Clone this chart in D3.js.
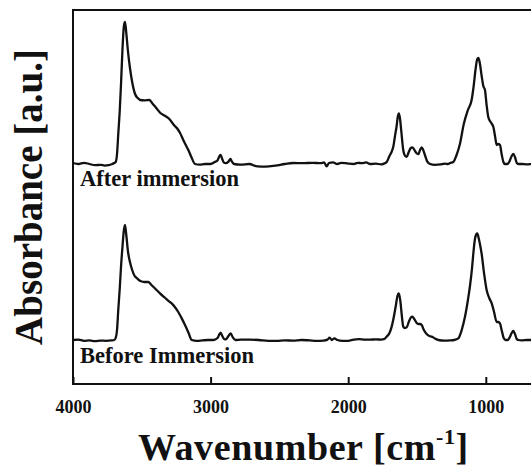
<!DOCTYPE html>
<html>
<head>
<meta charset="utf-8">
<script src="https://cdn.jsdelivr.net/npm/d3@7"></script>
<style>
  body { margin: 0; background: #fff; }
  svg { display: block; }
</style>
</head>
<body>
<script>
// FTIR spectra, [wavenumber, absorbance]
const afterImmersion = [
  [4000,0.005],[3960,0.0],[3920,0.006],[3880,0.0],[3840,-0.006],[3800,-0.004],[3770,-0.008],[3740,-0.006],
  [3715,0.0],[3700,0.005],[3690,0.01],[3680,0.05],[3671,0.15],[3660,0.27],[3651,0.4],[3640,0.58],[3630,0.69],
  [3622,0.71],[3612,0.65],[3600,0.56],[3586,0.48],[3570,0.41],[3549,0.35],[3530,0.33],[3513,0.32],[3480,0.318],
  [3445,0.32],[3420,0.3],[3395,0.28],[3365,0.255],[3330,0.24],[3300,0.225],[3283,0.21],[3260,0.19],[3240,0.175],
  [3222,0.155],[3195,0.115],[3162,0.07],[3140,0.035],[3113,0.0],[3080,-0.003],[3040,0.0],[3000,0.0],[2970,0.01],
  [2950,0.018],[2935,0.04],[2927,0.045],[2918,0.03],[2905,0.008],[2890,0.004],[2870,0.012],[2856,0.025],
  [2845,0.012],[2830,0.0],[2780,-0.003],[2720,0.0],[2660,-0.012],[2600,-0.013],[2530,-0.008],[2460,0.0],
  [2400,0.005],[2330,0.004],[2260,0.006],[2200,0.004],[2175,0.008],[2157,-0.012],[2140,0.005],[2110,0.008],
  [2080,0.0],[2050,0.006],[2000,0.002],[1960,0.0],[1930,0.006],[1900,0.004],[1870,0.008],[1840,0.0],[1800,0.002],
  [1760,-0.002],[1740,0.002],[1720,0.01],[1700,0.04],[1685,0.06],[1672,0.087],[1660,0.14],[1648,0.19],
  [1640,0.235],[1632,0.253],[1624,0.23],[1615,0.17],[1600,0.07],[1588,0.042],[1575,0.036],[1560,0.06],
  [1545,0.08],[1534,0.083],[1520,0.072],[1505,0.055],[1490,0.05],[1478,0.07],[1466,0.083],[1455,0.07],
  [1440,0.04],[1425,0.012],[1405,0.0],[1370,-0.004],[1330,-0.002],[1300,0.002],[1275,0.0],[1260,0.005],
  [1236,0.01],[1215,0.04],[1188,0.1],[1160,0.2],[1130,0.27],[1103,0.32],[1090,0.38],[1075,0.47],[1062,0.525],
  [1054,0.53],[1045,0.51],[1030,0.44],[1018,0.39],[1006,0.37],[995,0.3],[982,0.235],[965,0.21],[945,0.185],
  [933,0.14],[921,0.095],[910,0.1],[897,0.095],[885,0.05],[872,0.01],[861,0.0],[845,0.0],[830,0.01],
  [815,0.035],[800,0.05],[788,0.035],[775,0.005],[764,0.0],[740,0.0],[700,-0.002],[660,0.0],[600,0.0]
];
const beforeImmersion = [
  [4000,0.0],[3960,0.002],[3920,-0.004],[3880,-0.002],[3840,-0.006],[3800,-0.003],[3760,-0.004],[3720,-0.002],
  [3700,0.0],[3690,0.01],[3680,0.05],[3671,0.15],[3660,0.26],[3651,0.367],[3640,0.47],[3630,0.55],[3622,0.575],
  [3612,0.52],[3600,0.44],[3586,0.39],[3570,0.35],[3552,0.32],[3537,0.31],[3510,0.295],[3480,0.29],[3453,0.29],
  [3430,0.275],[3400,0.255],[3368,0.233],[3330,0.21],[3300,0.192],[3283,0.183],[3260,0.165],[3235,0.14],
  [3210,0.108],[3186,0.075],[3160,0.035],[3137,0.0],[3100,-0.004],[3060,-0.002],[3020,0.0],[2980,0.0],
  [2950,0.01],[2935,0.03],[2927,0.037],[2915,0.02],[2900,0.004],[2890,0.003],[2870,0.02],[2854,0.033],
  [2840,0.015],[2820,0.0],[2780,0.002],[2720,0.002],[2650,0.0],[2580,-0.004],[2520,-0.004],[2460,-0.002],
  [2400,-0.003],[2340,0.0],[2280,-0.002],[2230,-0.004],[2180,-0.003],[2150,0.002],[2135,0.012],[2120,0.0],
  [2100,0.008],[2080,0.0],[2040,-0.004],[2000,-0.004],[1960,0.002],[1920,0.004],[1880,0.002],[1840,0.002],
  [1800,0.003],[1760,0.002],[1740,0.004],[1720,0.017],[1700,0.035],[1684,0.067],[1670,0.11],[1655,0.167],
  [1642,0.22],[1632,0.233],[1622,0.2],[1610,0.12],[1600,0.067],[1588,0.06],[1575,0.063],[1560,0.09],
  [1545,0.112],[1534,0.117],[1520,0.105],[1505,0.088],[1490,0.08],[1478,0.08],[1466,0.075],[1450,0.05],
  [1430,0.03],[1410,0.02],[1393,0.017],[1370,0.008],[1345,0.0],[1300,-0.003],[1260,-0.002],[1230,0.0],
  [1200,0.008],[1175,0.05],[1151,0.117],[1130,0.2],[1115,0.27],[1100,0.36],[1091,0.43],[1080,0.5],[1068,0.53],
  [1062,0.533],[1052,0.51],[1040,0.47],[1030,0.43],[1012,0.33],[994,0.25],[975,0.21],[957,0.183],[940,0.14],
  [921,0.09],[910,0.09],[897,0.083],[885,0.05],[870,0.01],[855,0.0],[840,0.0],[825,0.015],[812,0.035],
  [800,0.045],[788,0.03],[775,0.005],[764,0.0],[740,-0.002],[700,0.0],[660,0.0],[600,0.0]
];
const afterOffset = 0.88;   // vertical stacking of the upper trace
const xTicks = [4000, 3000, 2000, 1000];
const seriesLabels = ["After immersion", "Before Immersion"];

const W = 531, H = 469;
const margin = { left: 73, top: 10, bottom: 85 };
const font = "'Liberation Serif', 'Times New Roman', serif";

const svg = d3.select("body").append("svg")
  .attr("width", W).attr("height", H);

// x runs past the right edge of the window, like the cropped original
const x = d3.scaleLinear().domain([4000, 400]).range([margin.left, margin.left + 3600 * 0.1376]);
const y = d3.scaleLinear().domain([-0.22, 1.65]).range([H - margin.bottom, margin.top]);

const line = d3.line()
  .x(d => x(d[0]))
  .y(d => y(d[1]))
  .curve(d3.curveMonotoneX);

svg.append("path")
  .datum(afterImmersion.map(d => [d[0], d[1] + afterOffset]))
  .attr("d", line)
  .attr("fill", "none").attr("stroke", "#111").attr("stroke-width", 2.3)
  .attr("stroke-linejoin", "round");

svg.append("path")
  .datum(beforeImmersion)
  .attr("d", line)
  .attr("fill", "none").attr("stroke", "#111").attr("stroke-width", 2.3)
  .attr("stroke-linejoin", "round");

// frame (left, top, bottom)
const x0 = x(4000), x1 = x(400), yTop = y.range()[1], yBot = y.range()[0];
svg.append("path")
  .attr("d", `M${x1},${yTop}H${x0}V${yBot}H${x1}`)
  .attr("fill", "none").attr("stroke", "#111").attr("stroke-width", 2);

// bottom axis, inward ticks
const xAxis = svg.append("g")
  .attr("transform", `translate(0,${yBot})`)
  .call(d3.axisBottom(x).tickValues(xTicks).tickSize(-7).tickPadding(16).tickFormat(d3.format("d")));
xAxis.select(".domain").remove();
xAxis.selectAll(".tick line").attr("stroke", "#111").attr("stroke-width", 2);
xAxis.selectAll(".tick text")
  .attr("font-family", font).attr("font-weight", "bold").attr("font-size", 18).attr("fill", "#111");

// series labels
svg.append("text")
  .attr("x", 80).attr("y", 186)
  .attr("font-family", font).attr("font-weight", "bold").attr("font-size", 22.5).attr("fill", "#111")
  .text(seriesLabels[0]);
svg.append("text")
  .attr("x", 80).attr("y", 363)
  .attr("font-family", font).attr("font-weight", "bold").attr("font-size", 22.5).attr("fill", "#111")
  .text(seriesLabels[1]);

// axis titles
const xTitle = svg.append("text")
  .attr("x", 138).attr("y", 460)
  .attr("font-family", font).attr("font-weight", "bold").attr("font-size", 38)
  .attr("letter-spacing", 0.6).attr("fill", "#111");
xTitle.append("tspan").text("Wavenumber [cm");
xTitle.append("tspan").attr("font-size", 22).attr("dy", -16).text("-1");
xTitle.append("tspan").attr("dy", 16).text("]");

svg.append("text")
  .attr("transform", `translate(42,${(yTop + yBot) / 2}) rotate(-90)`)
  .attr("text-anchor", "middle")
  .attr("font-family", font).attr("font-weight", "bold").attr("font-size", 39).attr("fill", "#111")
  .text("Absorbance [a.u.]");
</script>
</body>
</html>
